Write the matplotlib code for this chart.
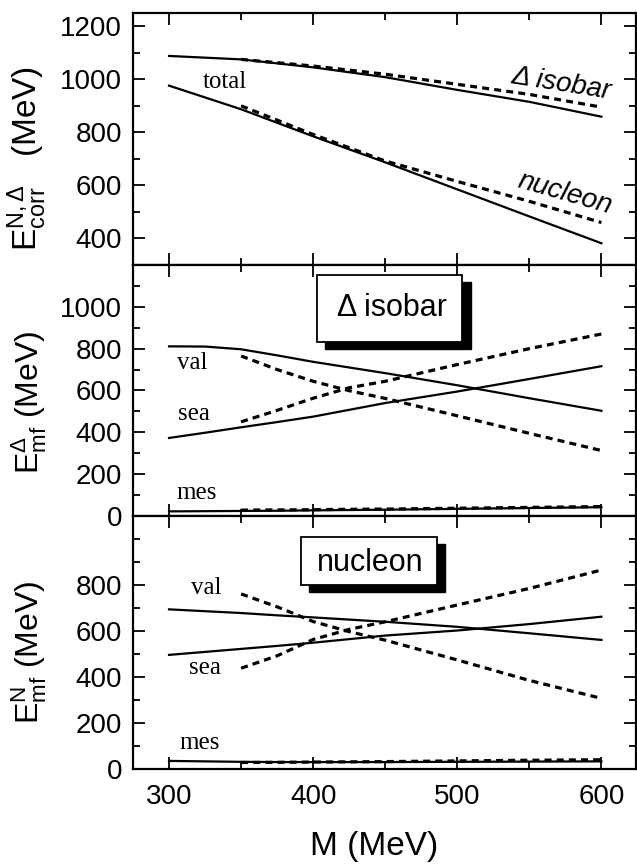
import matplotlib
matplotlib.use("Agg")
import matplotlib.pyplot as plt
from matplotlib.patches import Rectangle
from matplotlib.ticker import MultipleLocator

plt.rcParams['font.family'] = ['Liberation Sans', 'DejaVu Sans']
plt.rcParams['mathtext.fontset'] = 'custom'
plt.rcParams['mathtext.rm'] = 'Liberation Sans'
plt.rcParams['mathtext.it'] = 'Liberation Sans:italic'

# --- data ---
M_TOP = [300, 350, 400, 450, 500, 550, 600]
M_TOP_DASH = [350, 400, 450, 500, 550, 600]
corr_delta = [1088, 1075, 1045, 1008, 960, 915, 859]
corr_delta_dash = [1075, 1050, 1019, 981, 943, 895]
corr_nucleon = [976, 887, 785, 687, 585, 483, 382]
corr_nucleon_dash = [900, 792, 692, 615, 540, 460]

M_SOLID = [300, 325, 350, 375, 400, 450, 500, 550, 600]
M_DASH = [350, 375, 400, 425, 450, 500, 550, 600]

delta_val = [811, 810, 797, 768, 737, 683, 625, 563, 503]
delta_sea = [373, 398, 424, 449, 475, 540, 595, 655, 716]
delta_mes = [22, 23, 24, 25, 27, 30, 34, 38, 42]
delta_val_dash = [765, 700, 644, 599, 562, 479, 395, 313]
delta_sea_dash = [450, 505, 563, 613, 644, 724, 800, 870]
delta_mes_dash = [28, 29, 30, 32, 33, 37, 41, 45]

nuc_val = [694, 686, 678, 668, 659, 640, 618, 590, 561]
nuc_sea = [496, 509, 522, 535, 549, 580, 602, 630, 662]
nuc_mes = [35, 33, 31, 30, 30, 30, 31, 32, 33]
nuc_val_dash = [761, 705, 641, 597, 560, 474, 385, 307]
nuc_sea_dash = [438, 492, 563, 607, 640, 713, 785, 865]
nuc_mes_dash = [28, 29, 30, 31, 32, 35, 38, 40]

SOLID = dict(color='black', lw=1.6)
DASH = dict(color='black', lw=2.3, dashes=(2.2, 1.6))
SERIF = dict(family=['Liberation Serif', 'DejaVu Serif'], fontsize=18,
             ha='center', va='center')


def style_axis(ax, ylim):
    ax.set_xlim(275, 624)
    ax.set_ylim(*ylim)
    ax.xaxis.set_major_locator(MultipleLocator(100))
    ax.xaxis.set_minor_locator(MultipleLocator(50))
    ax.yaxis.set_major_locator(MultipleLocator(200))
    ax.yaxis.set_minor_locator(MultipleLocator(100))
    ax.tick_params(which='both', direction='in', top=True, right=True,
                   width=1.3, labelsize=20)
    ax.tick_params(which='major', length=8.5)
    ax.tick_params(which='minor', length=5)
    ax.tick_params(axis='y', pad=8)
    ax.tick_params(axis='x', pad=11)
    for s in ax.spines.values():
        s.set_linewidth(1.6)


def shadow_box(ax, x0, y0, x1, y1, text, tx, ty):
    ax.add_patch(Rectangle((x0 + 0.016, y0 - 0.028), x1 - x0, y1 - y0,
                           transform=ax.transAxes, fc='black', ec='black',
                           zorder=5, clip_on=False))
    ax.add_patch(Rectangle((x0, y0), x1 - x0, y1 - y0, transform=ax.transAxes,
                           fc='white', ec='black', lw=1.3, zorder=6,
                           clip_on=False))
    ax.text(tx, ty, text, transform=ax.transAxes, fontsize=22,
            ha='center', va='center', zorder=7)


fig = plt.figure(figsize=(6.37, 8.64), dpi=100)
ax1 = fig.add_axes([0.2088, 0.6933, 0.7896, 0.2917])
ax2 = fig.add_axes([0.2088, 0.4028, 0.7896, 0.2905])
ax3 = fig.add_axes([0.2088, 0.1100, 0.7896, 0.2928])

# top panel
ax1.plot(M_TOP, corr_delta, **SOLID)
ax1.plot(M_TOP_DASH, corr_delta_dash, **DASH)
ax1.plot(M_TOP, corr_nucleon, **SOLID)
ax1.plot(M_TOP_DASH, corr_nucleon_dash, **DASH)
style_axis(ax1, (300, 1250))
ax1.tick_params(labelbottom=False)
ax1.set_ylabel(r'$\mathregular{E^{N,Δ}_{corr}}$   (MeV)', fontsize=24)
ax1.yaxis.set_label_coords(-0.167, 0.423)
ax1.text(339, 991, 'total', **SERIF)
ax1.text(572, 982, 'Δ isobar', fontsize=20, style='italic', rotation=-9,
         ha='center', va='center')
ax1.text(575, 570, 'nucleon', fontsize=20, style='italic', rotation=-16,
         ha='center', va='center')

# middle panel: delta isobar
ax2.plot(M_SOLID, delta_val, **SOLID)
ax2.plot(M_SOLID, delta_sea, **SOLID)
ax2.plot(M_SOLID, delta_mes, **SOLID)
ax2.plot(M_DASH, delta_val_dash, **DASH)
ax2.plot(M_DASH, delta_sea_dash, **DASH)
ax2.plot(M_DASH, delta_mes_dash, **DASH)
style_axis(ax2, (0, 1200))
ax2.set_yticks([0, 200, 400, 600, 800, 1000])
ax2.tick_params(labelbottom=False)
ax2.set_ylabel(r'$\mathregular{E^{Δ}_{mf}}$ (MeV)', fontsize=23)
ax2.yaxis.set_label_coords(-0.167, 0.452)
ax2.text(316, 732, 'val', **SERIF)
ax2.text(317, 487, 'sea', **SERIF)
ax2.text(319, 108, 'mes', **SERIF)
shadow_box(ax2, 0.366, 0.694, 0.655, 0.960, 'Δ isobar', 0.515, 0.829)

# bottom panel: nucleon
ax3.plot(M_SOLID, nuc_val, **SOLID)
ax3.plot(M_SOLID, nuc_sea, **SOLID)
ax3.plot(M_SOLID, nuc_mes, **SOLID)
ax3.plot(M_DASH, nuc_val_dash, **DASH)
ax3.plot(M_DASH, nuc_sea_dash, **DASH)
ax3.plot(M_DASH, nuc_mes_dash, **DASH)
style_axis(ax3, (0, 1100))
ax3.set_yticks([0, 200, 400, 600, 800])
ax3.set_ylabel(r'$\mathregular{E^{N}_{mf}}$ (MeV)', fontsize=23)
ax3.yaxis.set_label_coords(-0.167, 0.46)
ax3.set_xlabel('M (MeV)', fontsize=24, va='baseline')
ax3.xaxis.set_label_coords(0.48, -0.34)
ax3.text(326, 786, 'val', **SERIF)
ax3.text(325, 438, 'sea', **SERIF)
ax3.text(321, 112, 'mes', **SERIF)
shadow_box(ax3, 0.334, 0.727, 0.604, 0.918, 'nucleon', 0.471, 0.814)

fig.savefig('out.png', dpi=100)
